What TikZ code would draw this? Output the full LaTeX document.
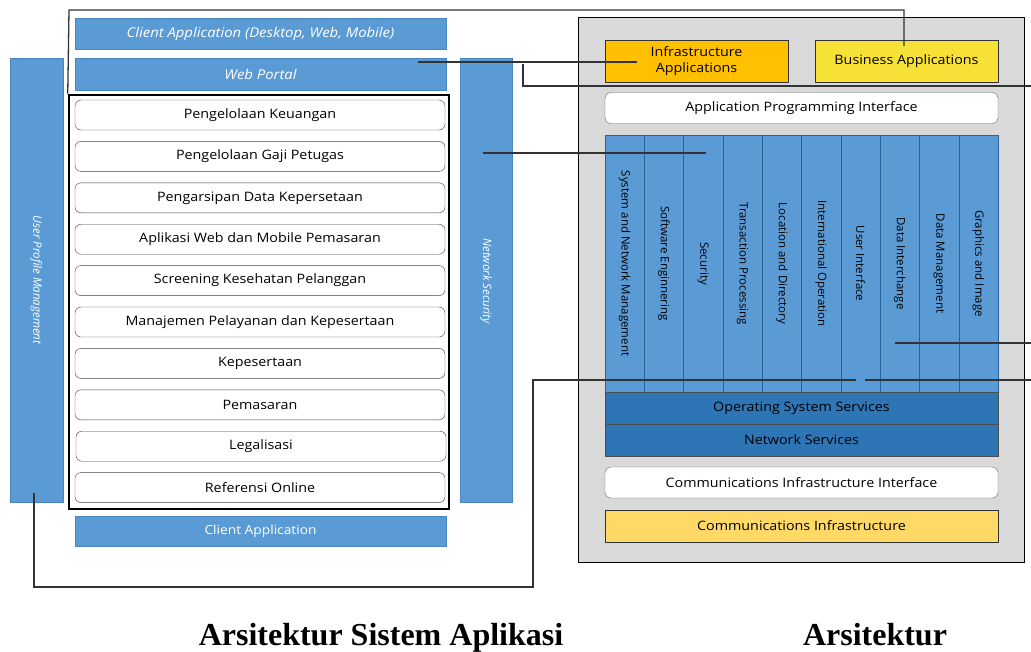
\documentclass[tikz,border=0pt]{standalone}
\usepackage{fontspec}
\setmainfont{Open Sans}[FakeStretch=1.1]
\newfontfamily\plainsans{Open Sans}
\newfontfamily\titlefont{Liberation Serif}
\definecolor{lblue}{HTML}{5B9BD5}
\definecolor{lblueedge}{HTML}{4A86BF}
\definecolor{dblue}{HTML}{2E75B6}
\definecolor{panelgray}{HTML}{D9D9D9}
\definecolor{gold}{HTML}{FFC000}
\definecolor{byellow}{HTML}{F7E136}
\definecolor{pyellow}{HTML}{FFD966}
\definecolor{linec}{HTML}{333333}
\begin{document}
\begin{tikzpicture}[x=1pt,y=-1pt,
  txt/.style={font=\fontsize{13}{16}\selectfont},
  bluebar/.style={draw=lblueedge, fill=lblue, text=white, inner sep=0pt,
     font=\itshape\fontsize{13.5}{16}\selectfont},
  barlab/.style={rotate=-90, text=white, inner sep=0pt, font=\plainsans\itshape\fontsize{11.5}{14}\selectfont},
  item/.style={draw=black!75, rounded corners=6pt, fill=white, minimum width=370pt,
     minimum height=30pt, inner sep=0pt, txt},
  wbox/.style={draw=black!60, rounded corners=6pt, fill=white, minimum width=393pt,
     minimum height=31pt, inner sep=0pt, txt},
  flat/.style={draw=black!80, minimum width=393pt, minimum height=32pt, inner sep=0pt, txt},
  col/.style={draw=dblue!85!black, fill=lblue, minimum width=39.3pt, minimum height=257pt, inner sep=0pt},
  collab/.style={rotate=-90, inner sep=0pt, font=\plainsans\fontsize{11.5}{13}\selectfont},
  conn/.style={draw=linec, line width=1.3pt},
  title/.style={font=\titlefont\bfseries\fontsize{32}{36}\selectfont, inner sep=0pt, anchor=base}
]
\useasboundingbox (0,0) rectangle (1031,651);

% ---------------- left side ----------------
\node[bluebar, minimum width=371pt, minimum height=31pt] (clientTop) at (260.5,33.5) {Client Application (Desktop, Web, Mobile)};
\node[bluebar, minimum width=371pt, minimum height=32pt] (webportal) at (260.5,74) {Web Portal};
\node[bluebar, minimum width=53pt, minimum height=444pt] (upm) at (36.5,280) {};
\node[barlab] (upmlab) at (36.5,280) {User Profile Management};
\node[bluebar, minimum width=52pt, minimum height=444pt] (netsec) at (486,280) {};
\node[barlab] (netseclab) at (486,281) {Network Security};

\node[draw=black, line width=2.5pt, minimum width=380pt, minimum height=414pt, inner sep=0pt] (apps) at (259,302) {};

\node[item] (i1) at (260,115) {Pengelolaan Keuangan};
\node[item] (i2) at (260,156.4) {Pengelolaan Gaji Petugas};
\node[item] (i3) at (260,197.8) {Pengarsipan Data Kepersetaan};
\node[item] (i4) at (260,239.2) {Aplikasi Web dan Mobile Pemasaran};
\node[item] (i5) at (260,280.6) {Screening Kesehatan Pelanggan};
\node[item] (i6) at (260,322) {Manajemen Pelayanan dan Kepesertaan};
\node[item] (i7) at (260,363.4) {Kepesertaan};
\node[item] (i8) at (260,404.8) {Pemasaran};
\node[item] (i9) at (261,446.2) {Legalisasi};
\node[item] (i10) at (260,487.6) {Referensi Online};

\node[bluebar, font=\fontsize{12.5}{15}\selectfont, minimum width=371pt, minimum height=30pt] (clientBot) at (260.5,531) {Client Application};

% ---------------- right side ----------------
\node[draw=black, fill=panelgray, minimum width=446pt, minimum height=545pt, inner sep=0pt] (panel) at (801,289.5) {};

\node[draw=black!80, fill=gold, minimum width=183pt, minimum height=42pt, inner sep=0pt, align=center, txt] (infra) at (696.5,61) {Infrastructure\\Applications};
\node[draw=black!80, fill=byellow, minimum width=183pt, minimum height=42pt, inner sep=0pt, txt] (business) at (906.5,61) {Business Applications};
\node[wbox] (api) at (801.5,108) {Application Programming Interface};

\foreach \i/\lab in {0/System and Network Management,1/Software Enginnering,2/Security,3/Transaction Processing,4/Location and Directory,5/International Operation,6/User Interface,7/Data Interchange,8/Data Management,9/Graphics and Image}{
  \node[col] (c\i) at ({605+39.3*(\i+0.5)},263.5) {};
  \node[collab] (cl\i) at ({605+39.3*(\i+0.5)},263.5) {\lab};
}

\node[flat, fill=dblue, draw=black!70] (oss) at (801.5,408) {Operating System Services};
\node[flat, fill=dblue, draw=black!70] (ns) at (801.5,440) {Network Services};
\node[wbox] (cii) at (801.5,482.5) {Communications Infrastructure Interface};
\node[flat, fill=pyellow] (ci) at (801.5,526) {Communications Infrastructure};

% ---------------- connectors ----------------
\coordinate (bizend) at (904,46);
\coordinate (wpstart) at (418,62);
\coordinate (infraend) at (637,62);
\coordinate (brk) at (523,64);
\coordinate (right1) at (1031,86);
\coordinate (nsstart) at (483,153);
\coordinate (colend) at (706,153);
\coordinate (distart) at (895,343);
\coordinate (right2) at (1031,343);
\coordinate (upmstart) at (34,493);
\coordinate (uiend) at (856,380);
\coordinate (uistart) at (865,380);
\coordinate (right3) at (1031,380);

\draw[conn] (apps.north west) -- (69,10) -| (bizend);
\draw[conn] (wpstart) -- (infraend);
\draw[conn] (brk) |- (right1);
\draw[conn] (nsstart) -- (colend);
\draw[conn] (distart) -- (right2);
\draw[conn] (upmstart) -- (34,587) -- (533,587) -- (533,380) -- (uiend);
\draw[conn] (uistart) -- (right3);

% ---------------- titles ----------------
\node[title] (t1) at (381,645) {Arsitektur Sistem Aplikasi};
\node[title] (t2) at (875,645) {Arsitektur};
\end{tikzpicture}
\end{document}
